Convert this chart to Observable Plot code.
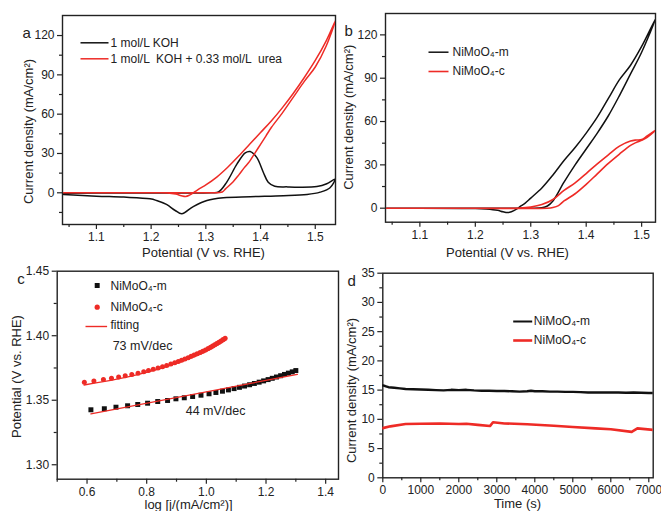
<!DOCTYPE html>
<html><head><meta charset="utf-8">
<script src="https://cdn.jsdelivr.net/npm/d3@7"></script>
<script src="https://cdn.jsdelivr.net/npm/@observablehq/plot@0.6"></script>
<style>
body{margin:0;background:#fff;}
#wrap{position:relative;width:661px;height:511px;overflow:hidden;background:#fff;}
#wrap svg{position:absolute;}
</style></head><body><div id="wrap"></div>
<script>
// ---------- DATA ----------
// Panel a: CV curves [potential V vs RHE, current density mA/cm2]
const aKOH = [[1.04,-0.3],[1.15,-0.2],[1.25,-0.1],[1.31,0.1],[1.323,0.6],[1.338,8],[1.357,22],[1.372,30.5],[1.381,31.5],[1.393,27],[1.405,15.7],[1.414,8.1],[1.426,5],[1.45,4.5],[1.472,4.3],[1.503,4.8],[1.521,6.9],[1.536,10.4],
  [1.527,3.8],[1.509,0.5],[1.485,-1.3],[1.442,-2.3],[1.381,-3],[1.332,-3.8],[1.302,-5.9],[1.277,-10.5],[1.256,-16],[1.244,-13.5],[1.228,-8.9],[1.21,-5.9],[1.198,-4.6],[1.15,-3.3],[1.1,-2.6],[1.04,-1.3]];
const aUrea = [[1.04,0],[1.2,0],[1.3,0.1],[1.33,0.6],[1.336,3],[1.35,8.5],[1.36,13.5],[1.37,19],[1.38,24],[1.39,30.5],[1.40,37],[1.41,43.5],[1.42,50],[1.44,61],[1.46,73],[1.48,85],[1.50,96],[1.52,112],[1.537,131.5],
  [1.52,116],[1.50,101],[1.48,88],[1.46,76],[1.44,65],[1.42,55],[1.40,46],[1.38,37],[1.36,28],[1.34,19.5],[1.32,12],[1.30,6],[1.29,3.5],[1.28,0.8],[1.27,-1.8],[1.263,-2.8],[1.255,-2.2],[1.245,-1],[1.23,-0.1],[1.2,0],[1.04,0]];
// Panel b
const bM = [[1.04,0],[1.2,0],[1.3,0],[1.32,0.3],[1.33,1.5],[1.34,5],[1.36,18],[1.38,30],[1.40,41],[1.42,52],[1.44,64],[1.46,78],[1.48,93],[1.50,108],[1.525,131],
  [1.50,112],[1.48,99],[1.46,89],[1.44,76],[1.42,63],[1.40,52],[1.38,42],[1.36,33],[1.34,23],[1.32,14],[1.30,7],[1.29,3.5],[1.28,1],[1.275,-0.5],[1.265,-2.5],[1.258,-3],[1.25,-2.5],[1.24,-1.5],[1.22,-0.6],[1.20,-0.2],[1.04,0]];
const bC = [[1.04,0],[1.2,0],[1.33,0],[1.34,0.5],[1.35,1.8],[1.36,5],[1.38,10],[1.40,16.5],[1.42,23.8],[1.44,31],[1.46,37.5],[1.48,43.5],[1.49,45.5],[1.50,47],[1.51,49],[1.525,54],
  [1.51,50],[1.50,47.5],[1.49,47.2],[1.48,46.5],[1.46,43],[1.44,37],[1.42,30.7],[1.40,24],[1.38,17.5],[1.36,12.3],[1.34,6],[1.32,2.5],[1.30,0.8],[1.28,0.1],[1.2,0],[1.04,0]];
// Panel c: Tafel [log j, potential]
const cM = [[0.613,1.3426],[0.658,1.3434],[0.697,1.3446],[0.736,1.3457],[0.770,1.3467],[0.803,1.3477],[0.837,1.3490],[0.870,1.3498],[0.898,1.3511],[0.926,1.3519],[0.954,1.3529],[0.982,1.3539],[1.009,1.3550],[1.032,1.3560],[1.054,1.3570],
  [1.074,1.358],[1.093,1.359],[1.111,1.360],[1.128,1.361],[1.145,1.362],[1.161,1.363],[1.177,1.364],[1.192,1.365],[1.207,1.366],[1.221,1.367],[1.235,1.368],[1.249,1.369],[1.262,1.370],[1.275,1.371],[1.288,1.372],[1.300,1.373]];
const cC = [[0.591,1.364],[0.623,1.365],[0.655,1.366],[0.682,1.367],[0.706,1.368],[0.728,1.369],[0.750,1.370],[0.771,1.371],[0.790,1.372],[0.806,1.373],[0.822,1.374],[0.838,1.375],[0.853,1.376],[0.867,1.377],[0.881,1.378],[0.894,1.379],[0.906,1.380],[0.917,1.381],[0.928,1.382],[0.939,1.383],[0.949,1.384],[0.959,1.385],[0.969,1.386],[0.979,1.387],[0.988,1.388],[0.997,1.389],[1.006,1.390],[1.014,1.391],[1.021,1.392],[1.028,1.393],[1.035,1.394],[1.042,1.395],[1.049,1.396],[1.056,1.397],[1.063,1.398]];
const cFitM = [[0.613,1.3395],[1.305,1.3700]];
const cFitC = [[0.59,1.3618],[0.70,1.3663],[0.80,1.3715],[0.90,1.3785],[1.00,1.3878],[1.065,1.3965]];
const cNotes = [{x:0.786,y:1.3918,t:"73 mV/dec"},{x:1.031,y:1.3413,t:"44 mV/dec"}];
// Panel d: chronoamperometry [time s, mA/cm2]
const dM = [[0,15.8],[60,15.7],[150,15.5],[300,15.4],[450,15.3],[600,15.2],[800,15.15],[1000,15.1],[1200,15.05],[1400,15.0],[1600,14.95],[1800,15.05],[2000,15.0],[2200,15.05],[2400,14.95],[2600,14.9],[2800,14.9],[3000,14.85],[3200,14.85],[3400,14.8],[3600,14.75],[3800,14.8],[3900,14.9],[4000,14.8],[4200,14.8],[4400,14.75],[4600,14.75],[4800,14.7],[5000,14.7],[5200,14.65],[5400,14.6],[5600,14.6],[5800,14.6],[6000,14.6],[6200,14.6],[6400,14.55],[6600,14.6],[6800,14.55],[7000,14.5],[7116,14.5]];
const dC = [[0,8.5],[200,8.8],[600,9.2],[1000,9.25],[1500,9.3],[2000,9.2],[2200,9.25],[2500,9.05],[2820,8.85],[2900,9.5],[3200,9.3],[3800,9.15],[4500,8.9],[5000,8.7],[5600,8.45],[6000,8.3],[6550,7.85],[6700,8.45],[7116,8.2]];
// Labels / ticks
const legA = ["1 mol/L KOH", "1 mol/L \u00a0KOH + 0.33 mol/L \u00a0urea"];
const legNi = ["NiMoO\u2084-m", "NiMoO\u2084-c"];
const labJ = "Current density (mA/cm\u00b2)";
const labE = "Potential (V vs. RHE)";
const labC = "log [j/(mA/cm\u00b2)]";
const labT = "Time (s)";
const ticksE = [1.1,1.2,1.3,1.4,1.5], ticksEm = [1.05,1.15,1.25,1.35,1.45];
const ticksJ = [0,30,60,90,120], ticksJmA = [-15,15,45,75,105], ticksJmB = [15,45,75,105];
const ticksL = [0.6,0.8,1.0,1.2,1.4], ticksLm = [0.5,0.7,0.9,1.1,1.3];
const ticksV = [1.30,1.35,1.40,1.45], ticksVm = [1.325,1.375,1.425];
const ticksT = [0,1000,2000,3000,4000,5000,6000,7000], ticksTm = [500,1500,2500,3500,4500,5500,6500];
const ticksD = [0,5,10,15,20,25,30,35], ticksDm = [2.5,7.5,12.5,17.5,22.5,27.5,32.5];

// ---------- HELPERS ----------
const FONT = "'Liberation Sans', Arial, Helvetica, sans-serif";
const RED = "#ee2b26", BLK = "#111", INK = "#222";
const X = d => d[0], Y = d => d[1];
const lineSym = half => ({draw(ctx){ ctx.moveTo(-half,0); ctx.lineTo(half,0); }});

function axes(xM, xm, yM, ym, xf, yf) {
  const t = {stroke: INK, strokeWidth: 1.2, label: null};
  return [
    Plot.axisX(xm, {...t, anchor: "bottom", tickSize: 3, tickFormat: () => ""}),
    Plot.axisX(xM, {...t, anchor: "bottom", tickSize: 5, tickPadding: 3, tickFormat: xf, fontSize: 12, fill: INK}),
    Plot.axisY(ym, {...t, anchor: "left", tickSize: 3, tickFormat: () => ""}),
    Plot.axisY(yM, {...t, anchor: "left", tickSize: 5, tickPadding: 3, tickFormat: yf, fontSize: 12, fill: INK}),
    Plot.frame({stroke: INK, strokeWidth: 1.4})
  ];
}
const txt = (s, o) => Plot.text([s], {text: d => d, fill: INK, fontSize: 13, ...o});
const letter = (s, dx, dy) => txt(s, {frameAnchor: "top-left", textAnchor: "start", lineAnchor: "bottom", fontSize: 15, dx, dy});
const ylab = (s, dx, dy) => txt(s, {frameAnchor: "left", textAnchor: "middle", rotate: -90, lineAnchor: "middle", dx, dy});
const xlab = (s, dx, dy) => txt(s, {frameAnchor: "bottom", textAnchor: "middle", lineAnchor: "middle", dx, dy});
const legLine = (color, w, half, dx, dy) => Plot.dot([0], {frameAnchor: "top-left", symbol: lineSym(half), stroke: color, strokeWidth: w, fill: "none", dx, dy});
const legText = (s, dx, dy) => txt(s, {frameAnchor: "top-left", textAnchor: "start", lineAnchor: "middle", fontSize: 12, dx, dy});

function place(svg, left, top) {
  svg.style.left = left + "px"; svg.style.top = top + "px";
  svg.style.background = "transparent"; svg.style.overflow = "visible";
  svg.style.fontFamily = FONT; svg.style.maxWidth = "none";
  document.getElementById("wrap").appendChild(svg);
}

// ---------- PANEL a ----------
place(Plot.plot({
  width: 340, height: 256, marginLeft: 62, marginRight: 5, marginTop: 15, marginBottom: 32,
  x: {domain: [1.038, 1.537]}, y: {domain: [-24.2, 135.3]},
  marks: [
    ...axes(ticksE, ticksEm, ticksJ, ticksJmA, d3.format(".1f"), d3.format("d")),
    Plot.line(aKOH, {x: X, y: Y, stroke: BLK, strokeWidth: 1.5, curve: "catmull-rom", clip: true}),
    Plot.line(aUrea, {x: X, y: Y, stroke: RED, strokeWidth: 1.5, curve: "catmull-rom", clip: true}),
    letter("a", -40, 22),
    legLine(BLK, 1.5, 14, 32, 27.3), legText(legA[0], 48, 27.3),
    legLine(RED, 1.5, 14, 32, 43.3), legText(legA[1], 48, 43.3),
    ylab(labJ, -34, 11.5), xlab(labE, 4.5, 28.5)
  ]
}), 0, 0);

// ---------- PANEL b ----------
place(Plot.plot({
  width: 326, height: 256, marginLeft: 50, marginRight: 6, marginTop: 13, marginBottom: 34.3,
  x: {domain: [1.038, 1.525]}, y: {domain: [-9.7, 134.8]},
  marks: [
    ...axes(ticksE, ticksEm, ticksJ, ticksJmB, d3.format(".1f"), d3.format("d")),
    Plot.line(bM, {x: X, y: Y, stroke: BLK, strokeWidth: 1.5, curve: "catmull-rom", clip: true}),
    Plot.line(bC, {x: X, y: Y, stroke: RED, strokeWidth: 1.6, curve: "catmull-rom", clip: true}),
    letter("b", -41, 22),
    legLine(BLK, 1.5, 10, 53, 38.7), legText(legNi[0], 67, 38.7),
    legLine(RED, 1.6, 10, 53, 58), legText(legNi[1], 67, 58),
    ylab(labJ, -37, -0.6), xlab(labE, -13, 30.5)
  ]
}), 335, 0);

// ---------- PANEL c ----------
place(Plot.plot({
  width: 340, height: 255, marginLeft: 56.7, marginRight: 2, marginTop: 14.7, marginBottom: 32.3,
  x: {domain: [0.5, 1.443]}, y: {domain: [1.2888, 1.45]},
  marks: [
    ...axes(ticksL, ticksLm, ticksV, ticksVm, d3.format(".1f"), d3.format(".2f")),
    Plot.dot(cM, {x: X, y: Y, symbol: "square", r: 2.8, fill: BLK}),
    Plot.line(cFitM, {x: X, y: Y, stroke: RED, strokeWidth: 1.3}),
    Plot.line(cFitC, {x: X, y: Y, stroke: RED, strokeWidth: 1.3, curve: "catmull-rom"}),
    Plot.dot(cC, {x: X, y: Y, symbol: "circle", r: 2.5, fill: RED}),
    Plot.text(cNotes, {x: "x", y: "y", text: "t", fill: INK, fontSize: 12.5}),
    letter("c", -40, 12.6),
    Plot.dot([0], {frameAnchor: "top-left", symbol: "square", r: 2.8, fill: BLK, dx: 40, dy: 14.3}),
    legText(legNi[0], 53.3, 15.3),
    Plot.dot([0], {frameAnchor: "top-left", symbol: "circle", r: 2.6, fill: RED, dx: 40, dy: 36}),
    legText(legNi[1], 53.3, 36),
    legLine(RED, 1.4, 10.8, 39.1, 55.3), legText("fitting", 53.3, 54.3),
    ylab(labE, -40, 1.3), xlab(labC, -9.3, 26)
  ]
}), 0, 256);

// ---------- PANEL d ----------
place(Plot.plot({
  width: 326, height: 255, marginLeft: 47.3, marginRight: 8.3, marginTop: 16.7, marginBottom: 33.7,
  x: {domain: [0, 7116]}, y: {domain: [0, 35]},
  marks: [
    ...axes(ticksT, ticksTm, ticksD, ticksDm, d3.format("d"), d3.format("d")),
    Plot.line(dM, {x: X, y: Y, stroke: BLK, strokeWidth: 2.4, clip: true}),
    Plot.line(dC, {x: X, y: Y, stroke: RED, strokeWidth: 2.6, clip: true}),
    letter("d", -35.3, 12.3),
    legLine(BLK, 2, 9.5, 139.9, 48.3), legText(legNi[0], 151, 48.3),
    legLine(RED, 2.6, 9.5, 139.9, 67.3), legText(legNi[1], 151, 67.3),
    ylab(labJ, -30.6, 15), xlab(labT, -0.5, 26)
  ]
}), 335, 256);
</script></body></html>
